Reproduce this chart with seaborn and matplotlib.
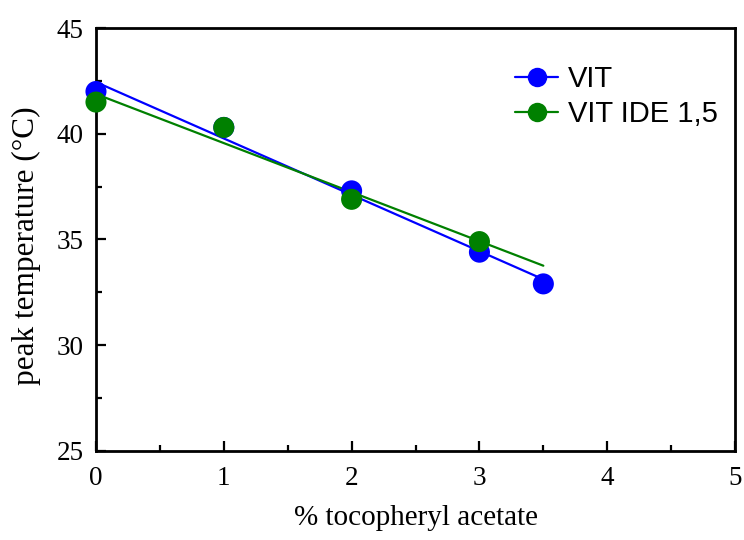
import numpy as np
import pandas as pd
import matplotlib
matplotlib.use("Agg")
import matplotlib.pyplot as plt
from matplotlib.lines import Line2D
from matplotlib.ticker import MultipleLocator
import seaborn as sns

# data
vit_x = [0, 1, 2, 3, 3.5]
vit_y = [42.0, 40.3, 37.3, 34.4, 32.9]
ide_x = [0, 1, 2, 3]
ide_y = [41.5, 40.3, 36.9, 34.9]
series_names = ["VIT", "VIT IDE 1,5"]
colors = ["#0000ff", "#008000"]
x_ticks = [0, 1, 2, 3, 4, 5]
y_ticks = [25, 30, 35, 40, 45]

sns.set_style("ticks")
plt.rcParams["font.family"] = ["Liberation Serif", "DejaVu Serif"]
plt.rcParams["text.color"] = "black"
plt.rcParams["axes.labelcolor"] = "black"
plt.rcParams["xtick.color"] = "black"
plt.rcParams["ytick.color"] = "black"
plt.rcParams["axes.edgecolor"] = "black"

df = pd.DataFrame({
    "x": vit_x + ide_x,
    "y": vit_y + ide_y,
    "series": [series_names[0]] * len(vit_x) + [series_names[1]] * len(ide_x),
})

fig = plt.figure(figsize=(7.44, 5.4), dpi=100)
ax = fig.add_axes([0.129, 0.165, 0.859, 0.783])

# linear fits drawn over 0..3.5
fit_x = np.array([0, 3.5])
for xs, ys, c in [(vit_x, vit_y, colors[0]), (ide_x, ide_y, colors[1])]:
    m, b = np.polyfit(xs, ys, 1)
    ax.plot(fit_x, m * fit_x + b, color=c, lw=1.6, zorder=2)

sns.scatterplot(data=df, x="x", y="y", hue="series", palette=colors,
                s=230, edgecolor="none", legend=False, ax=ax, zorder=3,
                clip_on=False)

ax.set_xlim(0, 5)
ax.set_ylim(25, 45)
ax.set_xticks(x_ticks)
ax.set_yticks(y_ticks)
ax.xaxis.set_minor_locator(MultipleLocator(0.5))
ax.yaxis.set_minor_locator(MultipleLocator(2.5))
ax.tick_params(axis="x", which="major", pad=11)
ax.tick_params(axis="y", which="major", pad=9)
ax.tick_params(which="major", direction="in", length=7, width=1.6,
               labelsize=19.5, top=False, right=False)
ax.tick_params(which="minor", direction="in", length=4, width=1.6,
               top=False, right=False)
for s in ax.spines.values():
    s.set_linewidth(2)
    s.set_visible(True)

ax.set_xlabel("% tocopheryl acetate", fontsize=21, labelpad=10)
ax.set_ylabel("peak temperature (°C)", fontsize=22.5, labelpad=9)
ax.yaxis.set_label_coords(-0.086, 0.485)

handles = [Line2D([0], [0], color=c, lw=1.6, marker="o", markersize=14,
                  markeredgecolor="none") for c in colors]
leg = ax.legend(handles, series_names, loc="upper left",
                bbox_to_anchor=(0.614, 0.975), frameon=False,
                prop={"family": ["Liberation Sans", "DejaVu Sans"], "size": 21},
                handlelength=1.5, handletextpad=0.32, labelspacing=0.25)

fig.savefig("out.png", dpi=100)
